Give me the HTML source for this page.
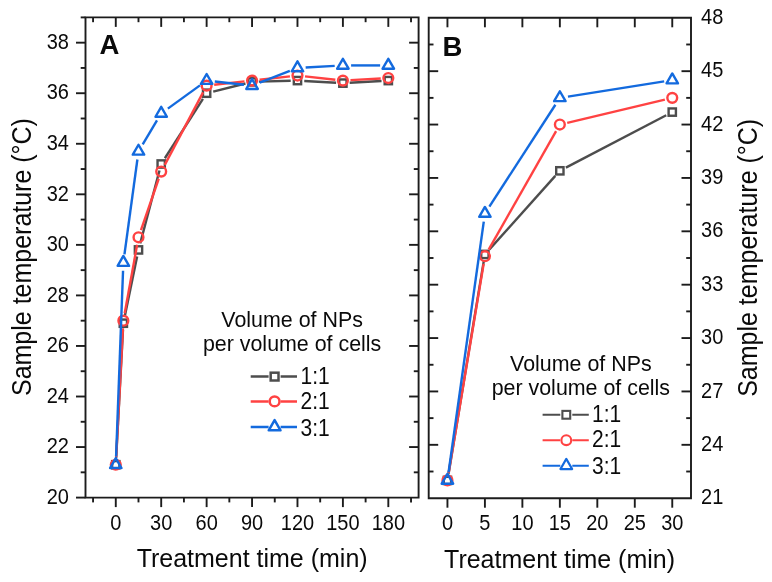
<!DOCTYPE html>
<html><head><meta charset="utf-8"><style>
html,body{margin:0;padding:0;background:#fff;}
svg{display:block;will-change:transform;}
text{fill:#0a0a0a;}
</style></head><body>
<svg width="772" height="582" viewBox="0 0 772 582" font-family="'Liberation Sans', sans-serif">
<rect width="772" height="582" fill="#fff"/>
<path d="M85.5,17.4 L418.6,17.4 L418.6,497.6 L85.5,497.6 Z" fill="none" stroke="#1c1c1c" stroke-width="1.9" stroke-linejoin="miter"/>
<line x1="76.00" y1="497.60" x2="85.50" y2="497.60" stroke="#1c1c1c" stroke-width="1.9" stroke-linecap="butt"/>
<text transform="translate(68.90,503.80) scale(1,1.09)" font-size="20" text-anchor="end" >20</text>
<line x1="80.70" y1="472.33" x2="85.50" y2="472.33" stroke="#1c1c1c" stroke-width="1.9" stroke-linecap="butt"/>
<line x1="413.80" y1="472.33" x2="418.60" y2="472.33" stroke="#1c1c1c" stroke-width="1.9" stroke-linecap="butt"/>
<line x1="76.00" y1="447.05" x2="85.50" y2="447.05" stroke="#1c1c1c" stroke-width="1.9" stroke-linecap="butt"/>
<line x1="409.10" y1="447.05" x2="418.60" y2="447.05" stroke="#1c1c1c" stroke-width="1.9" stroke-linecap="butt"/>
<text transform="translate(68.90,453.25) scale(1,1.09)" font-size="20" text-anchor="end" >22</text>
<line x1="80.70" y1="421.78" x2="85.50" y2="421.78" stroke="#1c1c1c" stroke-width="1.9" stroke-linecap="butt"/>
<line x1="413.80" y1="421.78" x2="418.60" y2="421.78" stroke="#1c1c1c" stroke-width="1.9" stroke-linecap="butt"/>
<line x1="76.00" y1="396.51" x2="85.50" y2="396.51" stroke="#1c1c1c" stroke-width="1.9" stroke-linecap="butt"/>
<line x1="409.10" y1="396.51" x2="418.60" y2="396.51" stroke="#1c1c1c" stroke-width="1.9" stroke-linecap="butt"/>
<text transform="translate(68.90,402.71) scale(1,1.09)" font-size="20" text-anchor="end" >24</text>
<line x1="80.70" y1="371.23" x2="85.50" y2="371.23" stroke="#1c1c1c" stroke-width="1.9" stroke-linecap="butt"/>
<line x1="413.80" y1="371.23" x2="418.60" y2="371.23" stroke="#1c1c1c" stroke-width="1.9" stroke-linecap="butt"/>
<line x1="76.00" y1="345.96" x2="85.50" y2="345.96" stroke="#1c1c1c" stroke-width="1.9" stroke-linecap="butt"/>
<line x1="409.10" y1="345.96" x2="418.60" y2="345.96" stroke="#1c1c1c" stroke-width="1.9" stroke-linecap="butt"/>
<text transform="translate(68.90,352.16) scale(1,1.09)" font-size="20" text-anchor="end" >26</text>
<line x1="80.70" y1="320.68" x2="85.50" y2="320.68" stroke="#1c1c1c" stroke-width="1.9" stroke-linecap="butt"/>
<line x1="413.80" y1="320.68" x2="418.60" y2="320.68" stroke="#1c1c1c" stroke-width="1.9" stroke-linecap="butt"/>
<line x1="76.00" y1="295.41" x2="85.50" y2="295.41" stroke="#1c1c1c" stroke-width="1.9" stroke-linecap="butt"/>
<line x1="409.10" y1="295.41" x2="418.60" y2="295.41" stroke="#1c1c1c" stroke-width="1.9" stroke-linecap="butt"/>
<text transform="translate(68.90,301.61) scale(1,1.09)" font-size="20" text-anchor="end" >28</text>
<line x1="80.70" y1="270.14" x2="85.50" y2="270.14" stroke="#1c1c1c" stroke-width="1.9" stroke-linecap="butt"/>
<line x1="413.80" y1="270.14" x2="418.60" y2="270.14" stroke="#1c1c1c" stroke-width="1.9" stroke-linecap="butt"/>
<line x1="76.00" y1="244.86" x2="85.50" y2="244.86" stroke="#1c1c1c" stroke-width="1.9" stroke-linecap="butt"/>
<line x1="409.10" y1="244.86" x2="418.60" y2="244.86" stroke="#1c1c1c" stroke-width="1.9" stroke-linecap="butt"/>
<text transform="translate(68.90,251.06) scale(1,1.09)" font-size="20" text-anchor="end" >30</text>
<line x1="80.70" y1="219.59" x2="85.50" y2="219.59" stroke="#1c1c1c" stroke-width="1.9" stroke-linecap="butt"/>
<line x1="413.80" y1="219.59" x2="418.60" y2="219.59" stroke="#1c1c1c" stroke-width="1.9" stroke-linecap="butt"/>
<line x1="76.00" y1="194.32" x2="85.50" y2="194.32" stroke="#1c1c1c" stroke-width="1.9" stroke-linecap="butt"/>
<line x1="409.10" y1="194.32" x2="418.60" y2="194.32" stroke="#1c1c1c" stroke-width="1.9" stroke-linecap="butt"/>
<text transform="translate(68.90,200.52) scale(1,1.09)" font-size="20" text-anchor="end" >32</text>
<line x1="80.70" y1="169.04" x2="85.50" y2="169.04" stroke="#1c1c1c" stroke-width="1.9" stroke-linecap="butt"/>
<line x1="413.80" y1="169.04" x2="418.60" y2="169.04" stroke="#1c1c1c" stroke-width="1.9" stroke-linecap="butt"/>
<line x1="76.00" y1="143.77" x2="85.50" y2="143.77" stroke="#1c1c1c" stroke-width="1.9" stroke-linecap="butt"/>
<line x1="409.10" y1="143.77" x2="418.60" y2="143.77" stroke="#1c1c1c" stroke-width="1.9" stroke-linecap="butt"/>
<text transform="translate(68.90,149.97) scale(1,1.09)" font-size="20" text-anchor="end" >34</text>
<line x1="80.70" y1="118.49" x2="85.50" y2="118.49" stroke="#1c1c1c" stroke-width="1.9" stroke-linecap="butt"/>
<line x1="413.80" y1="118.49" x2="418.60" y2="118.49" stroke="#1c1c1c" stroke-width="1.9" stroke-linecap="butt"/>
<line x1="76.00" y1="93.22" x2="85.50" y2="93.22" stroke="#1c1c1c" stroke-width="1.9" stroke-linecap="butt"/>
<line x1="409.10" y1="93.22" x2="418.60" y2="93.22" stroke="#1c1c1c" stroke-width="1.9" stroke-linecap="butt"/>
<text transform="translate(68.90,99.42) scale(1,1.09)" font-size="20" text-anchor="end" >36</text>
<line x1="80.70" y1="67.95" x2="85.50" y2="67.95" stroke="#1c1c1c" stroke-width="1.9" stroke-linecap="butt"/>
<line x1="413.80" y1="67.95" x2="418.60" y2="67.95" stroke="#1c1c1c" stroke-width="1.9" stroke-linecap="butt"/>
<line x1="76.00" y1="42.67" x2="85.50" y2="42.67" stroke="#1c1c1c" stroke-width="1.9" stroke-linecap="butt"/>
<line x1="409.10" y1="42.67" x2="418.60" y2="42.67" stroke="#1c1c1c" stroke-width="1.9" stroke-linecap="butt"/>
<text transform="translate(68.90,48.87) scale(1,1.09)" font-size="20" text-anchor="end" >38</text>
<line x1="80.70" y1="17.40" x2="85.50" y2="17.40" stroke="#1c1c1c" stroke-width="1.9" stroke-linecap="butt"/>
<line x1="93.07" y1="497.60" x2="93.07" y2="502.40" stroke="#1c1c1c" stroke-width="1.9" stroke-linecap="butt"/>
<line x1="93.07" y1="17.40" x2="93.07" y2="22.20" stroke="#1c1c1c" stroke-width="1.9" stroke-linecap="butt"/>
<line x1="115.78" y1="497.60" x2="115.78" y2="507.10" stroke="#1c1c1c" stroke-width="1.9" stroke-linecap="butt"/>
<line x1="115.78" y1="17.40" x2="115.78" y2="26.90" stroke="#1c1c1c" stroke-width="1.9" stroke-linecap="butt"/>
<text transform="translate(115.78,529.70) scale(1,1.09)" font-size="20" text-anchor="middle" >0</text>
<line x1="138.49" y1="497.60" x2="138.49" y2="502.40" stroke="#1c1c1c" stroke-width="1.9" stroke-linecap="butt"/>
<line x1="138.49" y1="17.40" x2="138.49" y2="22.20" stroke="#1c1c1c" stroke-width="1.9" stroke-linecap="butt"/>
<line x1="161.20" y1="497.60" x2="161.20" y2="507.10" stroke="#1c1c1c" stroke-width="1.9" stroke-linecap="butt"/>
<line x1="161.20" y1="17.40" x2="161.20" y2="26.90" stroke="#1c1c1c" stroke-width="1.9" stroke-linecap="butt"/>
<text transform="translate(161.20,529.70) scale(1,1.09)" font-size="20" text-anchor="middle" >30</text>
<line x1="183.92" y1="497.60" x2="183.92" y2="502.40" stroke="#1c1c1c" stroke-width="1.9" stroke-linecap="butt"/>
<line x1="183.92" y1="17.40" x2="183.92" y2="22.20" stroke="#1c1c1c" stroke-width="1.9" stroke-linecap="butt"/>
<line x1="206.63" y1="497.60" x2="206.63" y2="507.10" stroke="#1c1c1c" stroke-width="1.9" stroke-linecap="butt"/>
<line x1="206.63" y1="17.40" x2="206.63" y2="26.90" stroke="#1c1c1c" stroke-width="1.9" stroke-linecap="butt"/>
<text transform="translate(206.63,529.70) scale(1,1.09)" font-size="20" text-anchor="middle" >60</text>
<line x1="229.34" y1="497.60" x2="229.34" y2="502.40" stroke="#1c1c1c" stroke-width="1.9" stroke-linecap="butt"/>
<line x1="229.34" y1="17.40" x2="229.34" y2="22.20" stroke="#1c1c1c" stroke-width="1.9" stroke-linecap="butt"/>
<line x1="252.05" y1="497.60" x2="252.05" y2="507.10" stroke="#1c1c1c" stroke-width="1.9" stroke-linecap="butt"/>
<line x1="252.05" y1="17.40" x2="252.05" y2="26.90" stroke="#1c1c1c" stroke-width="1.9" stroke-linecap="butt"/>
<text transform="translate(252.05,529.70) scale(1,1.09)" font-size="20" text-anchor="middle" >90</text>
<line x1="274.76" y1="497.60" x2="274.76" y2="502.40" stroke="#1c1c1c" stroke-width="1.9" stroke-linecap="butt"/>
<line x1="274.76" y1="17.40" x2="274.76" y2="22.20" stroke="#1c1c1c" stroke-width="1.9" stroke-linecap="butt"/>
<line x1="297.47" y1="497.60" x2="297.47" y2="507.10" stroke="#1c1c1c" stroke-width="1.9" stroke-linecap="butt"/>
<line x1="297.47" y1="17.40" x2="297.47" y2="26.90" stroke="#1c1c1c" stroke-width="1.9" stroke-linecap="butt"/>
<text transform="translate(297.47,529.70) scale(1,1.09)" font-size="20" text-anchor="middle" >120</text>
<line x1="320.18" y1="497.60" x2="320.18" y2="502.40" stroke="#1c1c1c" stroke-width="1.9" stroke-linecap="butt"/>
<line x1="320.18" y1="17.40" x2="320.18" y2="22.20" stroke="#1c1c1c" stroke-width="1.9" stroke-linecap="butt"/>
<line x1="342.90" y1="497.60" x2="342.90" y2="507.10" stroke="#1c1c1c" stroke-width="1.9" stroke-linecap="butt"/>
<line x1="342.90" y1="17.40" x2="342.90" y2="26.90" stroke="#1c1c1c" stroke-width="1.9" stroke-linecap="butt"/>
<text transform="translate(342.90,529.70) scale(1,1.09)" font-size="20" text-anchor="middle" >150</text>
<line x1="365.61" y1="497.60" x2="365.61" y2="502.40" stroke="#1c1c1c" stroke-width="1.9" stroke-linecap="butt"/>
<line x1="365.61" y1="17.40" x2="365.61" y2="22.20" stroke="#1c1c1c" stroke-width="1.9" stroke-linecap="butt"/>
<line x1="388.32" y1="497.60" x2="388.32" y2="507.10" stroke="#1c1c1c" stroke-width="1.9" stroke-linecap="butt"/>
<line x1="388.32" y1="17.40" x2="388.32" y2="26.90" stroke="#1c1c1c" stroke-width="1.9" stroke-linecap="butt"/>
<text transform="translate(388.32,529.70) scale(1,1.09)" font-size="20" text-anchor="middle" >180</text>
<line x1="411.03" y1="497.60" x2="411.03" y2="502.40" stroke="#1c1c1c" stroke-width="1.9" stroke-linecap="butt"/>
<line x1="411.03" y1="17.40" x2="411.03" y2="22.20" stroke="#1c1c1c" stroke-width="1.9" stroke-linecap="butt"/>
<text transform="translate(99.60,54.45) scale(1,1.0)" font-size="27.5" text-anchor="start" font-weight="bold">A</text>
<text transform="translate(136.65,566.60) scale(1,1.06)" font-size="25" text-anchor="start" >Treatment time (min)</text>
<text transform="translate(31.2,396.0) rotate(-90) scale(1,1.08)" font-size="25">Sample temperature (°C)</text>
<path d="M428.7,17.8 L691.0,17.8 L691.0,498.2 L428.7,498.2 Z" fill="none" stroke="#1c1c1c" stroke-width="1.9" stroke-linejoin="miter"/>
<text transform="translate(701.10,504.30) scale(1,1.08)" font-size="20" text-anchor="start" >21</text>
<line x1="428.70" y1="471.51" x2="433.50" y2="471.51" stroke="#1c1c1c" stroke-width="1.9" stroke-linecap="butt"/>
<line x1="686.20" y1="471.51" x2="691.00" y2="471.51" stroke="#1c1c1c" stroke-width="1.9" stroke-linecap="butt"/>
<line x1="428.70" y1="444.82" x2="438.20" y2="444.82" stroke="#1c1c1c" stroke-width="1.9" stroke-linecap="butt"/>
<line x1="681.50" y1="444.82" x2="691.00" y2="444.82" stroke="#1c1c1c" stroke-width="1.9" stroke-linecap="butt"/>
<text transform="translate(701.10,450.92) scale(1,1.08)" font-size="20" text-anchor="start" >24</text>
<line x1="428.70" y1="418.13" x2="433.50" y2="418.13" stroke="#1c1c1c" stroke-width="1.9" stroke-linecap="butt"/>
<line x1="686.20" y1="418.13" x2="691.00" y2="418.13" stroke="#1c1c1c" stroke-width="1.9" stroke-linecap="butt"/>
<line x1="428.70" y1="391.44" x2="438.20" y2="391.44" stroke="#1c1c1c" stroke-width="1.9" stroke-linecap="butt"/>
<line x1="681.50" y1="391.44" x2="691.00" y2="391.44" stroke="#1c1c1c" stroke-width="1.9" stroke-linecap="butt"/>
<text transform="translate(701.10,397.54) scale(1,1.08)" font-size="20" text-anchor="start" >27</text>
<line x1="428.70" y1="364.76" x2="433.50" y2="364.76" stroke="#1c1c1c" stroke-width="1.9" stroke-linecap="butt"/>
<line x1="686.20" y1="364.76" x2="691.00" y2="364.76" stroke="#1c1c1c" stroke-width="1.9" stroke-linecap="butt"/>
<line x1="428.70" y1="338.07" x2="438.20" y2="338.07" stroke="#1c1c1c" stroke-width="1.9" stroke-linecap="butt"/>
<line x1="681.50" y1="338.07" x2="691.00" y2="338.07" stroke="#1c1c1c" stroke-width="1.9" stroke-linecap="butt"/>
<text transform="translate(701.10,344.17) scale(1,1.08)" font-size="20" text-anchor="start" >30</text>
<line x1="428.70" y1="311.38" x2="433.50" y2="311.38" stroke="#1c1c1c" stroke-width="1.9" stroke-linecap="butt"/>
<line x1="686.20" y1="311.38" x2="691.00" y2="311.38" stroke="#1c1c1c" stroke-width="1.9" stroke-linecap="butt"/>
<line x1="428.70" y1="284.69" x2="438.20" y2="284.69" stroke="#1c1c1c" stroke-width="1.9" stroke-linecap="butt"/>
<line x1="681.50" y1="284.69" x2="691.00" y2="284.69" stroke="#1c1c1c" stroke-width="1.9" stroke-linecap="butt"/>
<text transform="translate(701.10,290.79) scale(1,1.08)" font-size="20" text-anchor="start" >33</text>
<line x1="428.70" y1="258.00" x2="433.50" y2="258.00" stroke="#1c1c1c" stroke-width="1.9" stroke-linecap="butt"/>
<line x1="686.20" y1="258.00" x2="691.00" y2="258.00" stroke="#1c1c1c" stroke-width="1.9" stroke-linecap="butt"/>
<line x1="428.70" y1="231.31" x2="438.20" y2="231.31" stroke="#1c1c1c" stroke-width="1.9" stroke-linecap="butt"/>
<line x1="681.50" y1="231.31" x2="691.00" y2="231.31" stroke="#1c1c1c" stroke-width="1.9" stroke-linecap="butt"/>
<text transform="translate(701.10,237.41) scale(1,1.08)" font-size="20" text-anchor="start" >36</text>
<line x1="428.70" y1="204.62" x2="433.50" y2="204.62" stroke="#1c1c1c" stroke-width="1.9" stroke-linecap="butt"/>
<line x1="686.20" y1="204.62" x2="691.00" y2="204.62" stroke="#1c1c1c" stroke-width="1.9" stroke-linecap="butt"/>
<line x1="428.70" y1="177.93" x2="438.20" y2="177.93" stroke="#1c1c1c" stroke-width="1.9" stroke-linecap="butt"/>
<line x1="681.50" y1="177.93" x2="691.00" y2="177.93" stroke="#1c1c1c" stroke-width="1.9" stroke-linecap="butt"/>
<text transform="translate(701.10,184.03) scale(1,1.08)" font-size="20" text-anchor="start" >39</text>
<line x1="428.70" y1="151.24" x2="433.50" y2="151.24" stroke="#1c1c1c" stroke-width="1.9" stroke-linecap="butt"/>
<line x1="686.20" y1="151.24" x2="691.00" y2="151.24" stroke="#1c1c1c" stroke-width="1.9" stroke-linecap="butt"/>
<line x1="428.70" y1="124.56" x2="438.20" y2="124.56" stroke="#1c1c1c" stroke-width="1.9" stroke-linecap="butt"/>
<line x1="681.50" y1="124.56" x2="691.00" y2="124.56" stroke="#1c1c1c" stroke-width="1.9" stroke-linecap="butt"/>
<text transform="translate(701.10,130.66) scale(1,1.08)" font-size="20" text-anchor="start" >42</text>
<line x1="428.70" y1="97.87" x2="433.50" y2="97.87" stroke="#1c1c1c" stroke-width="1.9" stroke-linecap="butt"/>
<line x1="686.20" y1="97.87" x2="691.00" y2="97.87" stroke="#1c1c1c" stroke-width="1.9" stroke-linecap="butt"/>
<line x1="428.70" y1="71.18" x2="438.20" y2="71.18" stroke="#1c1c1c" stroke-width="1.9" stroke-linecap="butt"/>
<line x1="681.50" y1="71.18" x2="691.00" y2="71.18" stroke="#1c1c1c" stroke-width="1.9" stroke-linecap="butt"/>
<text transform="translate(701.10,77.28) scale(1,1.08)" font-size="20" text-anchor="start" >45</text>
<line x1="428.70" y1="44.49" x2="433.50" y2="44.49" stroke="#1c1c1c" stroke-width="1.9" stroke-linecap="butt"/>
<line x1="686.20" y1="44.49" x2="691.00" y2="44.49" stroke="#1c1c1c" stroke-width="1.9" stroke-linecap="butt"/>
<text transform="translate(701.10,23.90) scale(1,1.08)" font-size="20" text-anchor="start" >48</text>
<line x1="447.44" y1="498.20" x2="447.44" y2="507.70" stroke="#1c1c1c" stroke-width="1.9" stroke-linecap="butt"/>
<line x1="447.44" y1="17.80" x2="447.44" y2="27.30" stroke="#1c1c1c" stroke-width="1.9" stroke-linecap="butt"/>
<text transform="translate(447.44,529.90) scale(1,1.09)" font-size="20" text-anchor="middle" >0</text>
<line x1="484.91" y1="498.20" x2="484.91" y2="507.70" stroke="#1c1c1c" stroke-width="1.9" stroke-linecap="butt"/>
<line x1="484.91" y1="17.80" x2="484.91" y2="27.30" stroke="#1c1c1c" stroke-width="1.9" stroke-linecap="butt"/>
<text transform="translate(484.91,529.90) scale(1,1.09)" font-size="20" text-anchor="middle" >5</text>
<line x1="522.38" y1="498.20" x2="522.38" y2="507.70" stroke="#1c1c1c" stroke-width="1.9" stroke-linecap="butt"/>
<line x1="522.38" y1="17.80" x2="522.38" y2="27.30" stroke="#1c1c1c" stroke-width="1.9" stroke-linecap="butt"/>
<text transform="translate(522.38,529.90) scale(1,1.09)" font-size="20" text-anchor="middle" >10</text>
<line x1="559.85" y1="498.20" x2="559.85" y2="507.70" stroke="#1c1c1c" stroke-width="1.9" stroke-linecap="butt"/>
<line x1="559.85" y1="17.80" x2="559.85" y2="27.30" stroke="#1c1c1c" stroke-width="1.9" stroke-linecap="butt"/>
<text transform="translate(559.85,529.90) scale(1,1.09)" font-size="20" text-anchor="middle" >15</text>
<line x1="597.32" y1="498.20" x2="597.32" y2="507.70" stroke="#1c1c1c" stroke-width="1.9" stroke-linecap="butt"/>
<line x1="597.32" y1="17.80" x2="597.32" y2="27.30" stroke="#1c1c1c" stroke-width="1.9" stroke-linecap="butt"/>
<text transform="translate(597.32,529.90) scale(1,1.09)" font-size="20" text-anchor="middle" >20</text>
<line x1="634.79" y1="498.20" x2="634.79" y2="507.70" stroke="#1c1c1c" stroke-width="1.9" stroke-linecap="butt"/>
<line x1="634.79" y1="17.80" x2="634.79" y2="27.30" stroke="#1c1c1c" stroke-width="1.9" stroke-linecap="butt"/>
<text transform="translate(634.79,529.90) scale(1,1.09)" font-size="20" text-anchor="middle" >25</text>
<line x1="672.26" y1="498.20" x2="672.26" y2="507.70" stroke="#1c1c1c" stroke-width="1.9" stroke-linecap="butt"/>
<line x1="672.26" y1="17.80" x2="672.26" y2="27.30" stroke="#1c1c1c" stroke-width="1.9" stroke-linecap="butt"/>
<text transform="translate(672.26,529.90) scale(1,1.09)" font-size="20" text-anchor="middle" >30</text>
<text transform="translate(442.60,55.55) scale(1,1.0)" font-size="27.5" text-anchor="start" font-weight="bold">B</text>
<text transform="translate(444.05,568.40) scale(1,1.06)" font-size="25" text-anchor="start" >Treatment time (min)</text>
<text transform="translate(756.8,396.8) rotate(-90) scale(1,1.08)" font-size="25">Sample temperature (°C)</text>
<line x1="116.15" y1="457.95" x2="122.99" y2="330.00" stroke="#4d4d4d" stroke-width="2.4" stroke-linecap="butt"/>
<line x1="124.73" y1="316.55" x2="137.12" y2="256.58" stroke="#4d4d4d" stroke-width="2.4" stroke-linecap="butt"/>
<line x1="140.23" y1="243.34" x2="159.47" y2="170.56" stroke="#4d4d4d" stroke-width="2.4" stroke-linecap="butt"/>
<line x1="164.88" y1="158.26" x2="202.95" y2="98.94" stroke="#4d4d4d" stroke-width="2.4" stroke-linecap="butt"/>
<line x1="213.22" y1="91.57" x2="245.45" y2="83.50" stroke="#4d4d4d" stroke-width="2.4" stroke-linecap="butt"/>
<line x1="258.85" y1="81.66" x2="290.68" y2="80.77" stroke="#4d4d4d" stroke-width="2.4" stroke-linecap="butt"/>
<line x1="304.26" y1="80.96" x2="336.11" y2="82.73" stroke="#4d4d4d" stroke-width="2.4" stroke-linecap="butt"/>
<line x1="349.68" y1="82.73" x2="381.53" y2="80.96" stroke="#4d4d4d" stroke-width="2.4" stroke-linecap="butt"/>
<rect x="112.13" y="461.09" width="7.30" height="7.30" fill="none" stroke="#4d4d4d" stroke-width="2.4"/>
<rect x="119.70" y="319.56" width="7.30" height="7.30" fill="none" stroke="#4d4d4d" stroke-width="2.4"/>
<rect x="134.84" y="246.27" width="7.30" height="7.30" fill="none" stroke="#4d4d4d" stroke-width="2.4"/>
<rect x="157.55" y="160.34" width="7.30" height="7.30" fill="none" stroke="#4d4d4d" stroke-width="2.4"/>
<rect x="202.98" y="89.57" width="7.30" height="7.30" fill="none" stroke="#4d4d4d" stroke-width="2.4"/>
<rect x="248.40" y="78.20" width="7.30" height="7.30" fill="none" stroke="#4d4d4d" stroke-width="2.4"/>
<rect x="293.82" y="76.93" width="7.30" height="7.30" fill="none" stroke="#4d4d4d" stroke-width="2.4"/>
<rect x="339.25" y="79.46" width="7.30" height="7.30" fill="none" stroke="#4d4d4d" stroke-width="2.4"/>
<rect x="384.67" y="76.93" width="7.30" height="7.30" fill="none" stroke="#4d4d4d" stroke-width="2.4"/>
<line x1="116.18" y1="457.15" x2="122.95" y2="328.27" stroke="#ff4242" stroke-width="2.4" stroke-linecap="butt"/>
<line x1="124.71" y1="313.21" x2="137.14" y2="244.76" stroke="#ff4242" stroke-width="2.4" stroke-linecap="butt"/>
<line x1="140.98" y1="230.10" x2="158.72" y2="178.75" stroke="#ff4242" stroke-width="2.4" stroke-linecap="butt"/>
<line x1="164.76" y1="164.85" x2="203.08" y2="92.36" stroke="#ff4242" stroke-width="2.4" stroke-linecap="butt"/>
<line x1="214.18" y1="84.80" x2="244.50" y2="81.42" stroke="#ff4242" stroke-width="2.4" stroke-linecap="butt"/>
<line x1="259.60" y1="79.74" x2="289.92" y2="76.37" stroke="#ff4242" stroke-width="2.4" stroke-linecap="butt"/>
<line x1="305.03" y1="76.37" x2="335.34" y2="79.74" stroke="#ff4242" stroke-width="2.4" stroke-linecap="butt"/>
<line x1="350.48" y1="80.16" x2="380.73" y2="78.48" stroke="#ff4242" stroke-width="2.4" stroke-linecap="butt"/>
<circle cx="115.78" cy="464.74" r="4.90" fill="none" stroke="#ff4242" stroke-width="2.4"/>
<circle cx="123.35" cy="320.68" r="4.90" fill="none" stroke="#ff4242" stroke-width="2.4"/>
<circle cx="138.49" cy="237.28" r="4.90" fill="none" stroke="#ff4242" stroke-width="2.4"/>
<circle cx="161.20" cy="171.57" r="4.90" fill="none" stroke="#ff4242" stroke-width="2.4"/>
<circle cx="206.63" cy="85.64" r="4.90" fill="none" stroke="#ff4242" stroke-width="2.4"/>
<circle cx="252.05" cy="80.58" r="4.90" fill="none" stroke="#ff4242" stroke-width="2.4"/>
<circle cx="297.47" cy="75.53" r="4.90" fill="none" stroke="#ff4242" stroke-width="2.4"/>
<circle cx="342.90" cy="80.58" r="4.90" fill="none" stroke="#ff4242" stroke-width="2.4"/>
<circle cx="388.32" cy="78.06" r="4.90" fill="none" stroke="#ff4242" stroke-width="2.4"/>
<line x1="116.09" y1="456.55" x2="123.05" y2="270.75" stroke="#136ade" stroke-width="2.4" stroke-linecap="butt"/>
<line x1="124.46" y1="254.43" x2="137.39" y2="159.48" stroke="#136ade" stroke-width="2.4" stroke-linecap="butt"/>
<line x1="142.71" y1="144.32" x2="156.99" y2="120.47" stroke="#136ade" stroke-width="2.4" stroke-linecap="butt"/>
<line x1="167.85" y1="108.63" x2="199.98" y2="85.39" stroke="#136ade" stroke-width="2.4" stroke-linecap="butt"/>
<line x1="214.78" y1="81.49" x2="243.90" y2="84.73" stroke="#136ade" stroke-width="2.4" stroke-linecap="butt"/>
<line x1="259.69" y1="82.66" x2="289.83" y2="70.92" stroke="#136ade" stroke-width="2.4" stroke-linecap="butt"/>
<line x1="305.66" y1="67.49" x2="334.71" y2="65.88" stroke="#136ade" stroke-width="2.4" stroke-linecap="butt"/>
<line x1="351.10" y1="65.42" x2="380.12" y2="65.42" stroke="#136ade" stroke-width="2.4" stroke-linecap="butt"/>
<polygon points="115.78,458.14 121.50,468.04 110.07,468.04" fill="none" stroke="#136ade" stroke-width="2.4" stroke-linejoin="round"/>
<polygon points="123.35,255.95 129.07,265.85 117.64,265.85" fill="none" stroke="#136ade" stroke-width="2.4" stroke-linejoin="round"/>
<polygon points="138.49,144.75 144.21,154.65 132.78,154.65" fill="none" stroke="#136ade" stroke-width="2.4" stroke-linejoin="round"/>
<polygon points="161.20,106.84 166.92,116.74 155.49,116.74" fill="none" stroke="#136ade" stroke-width="2.4" stroke-linejoin="round"/>
<polygon points="206.63,73.98 212.34,83.88 200.91,83.88" fill="none" stroke="#136ade" stroke-width="2.4" stroke-linejoin="round"/>
<polygon points="252.05,79.04 257.77,88.94 246.33,88.94" fill="none" stroke="#136ade" stroke-width="2.4" stroke-linejoin="round"/>
<polygon points="297.47,61.35 303.19,71.25 291.76,71.25" fill="none" stroke="#136ade" stroke-width="2.4" stroke-linejoin="round"/>
<polygon points="342.90,58.82 348.61,68.72 337.18,68.72" fill="none" stroke="#136ade" stroke-width="2.4" stroke-linejoin="round"/>
<polygon points="388.32,58.82 394.03,68.72 382.60,68.72" fill="none" stroke="#136ade" stroke-width="2.4" stroke-linejoin="round"/>
<line x1="448.55" y1="473.70" x2="483.79" y2="261.15" stroke="#4d4d4d" stroke-width="2.4" stroke-linecap="butt"/>
<line x1="489.45" y1="249.38" x2="555.31" y2="175.88" stroke="#4d4d4d" stroke-width="2.4" stroke-linecap="butt"/>
<line x1="565.88" y1="167.67" x2="666.24" y2="115.25" stroke="#4d4d4d" stroke-width="2.4" stroke-linecap="butt"/>
<rect x="443.79" y="476.76" width="7.30" height="7.30" fill="none" stroke="#4d4d4d" stroke-width="2.4"/>
<rect x="481.26" y="250.79" width="7.30" height="7.30" fill="none" stroke="#4d4d4d" stroke-width="2.4"/>
<rect x="556.20" y="167.17" width="7.30" height="7.30" fill="none" stroke="#4d4d4d" stroke-width="2.4"/>
<rect x="668.61" y="108.45" width="7.30" height="7.30" fill="none" stroke="#4d4d4d" stroke-width="2.4"/>
<line x1="448.69" y1="472.91" x2="483.65" y2="263.72" stroke="#ff4242" stroke-width="2.4" stroke-linecap="butt"/>
<line x1="488.67" y1="249.62" x2="556.09" y2="131.16" stroke="#ff4242" stroke-width="2.4" stroke-linecap="butt"/>
<line x1="567.24" y1="122.80" x2="664.87" y2="99.62" stroke="#ff4242" stroke-width="2.4" stroke-linecap="butt"/>
<circle cx="447.44" cy="480.41" r="4.90" fill="none" stroke="#ff4242" stroke-width="2.4"/>
<circle cx="484.91" cy="256.22" r="4.90" fill="none" stroke="#ff4242" stroke-width="2.4"/>
<circle cx="559.85" cy="124.56" r="4.90" fill="none" stroke="#ff4242" stroke-width="2.4"/>
<circle cx="672.26" cy="97.87" r="4.90" fill="none" stroke="#ff4242" stroke-width="2.4"/>
<line x1="448.58" y1="472.29" x2="483.77" y2="221.64" stroke="#136ade" stroke-width="2.4" stroke-linecap="butt"/>
<line x1="489.37" y1="206.64" x2="555.39" y2="104.75" stroke="#136ade" stroke-width="2.4" stroke-linecap="butt"/>
<line x1="567.95" y1="96.58" x2="664.17" y2="81.36" stroke="#136ade" stroke-width="2.4" stroke-linecap="butt"/>
<polygon points="447.44,473.81 453.15,483.71 441.72,483.71" fill="none" stroke="#136ade" stroke-width="2.4" stroke-linejoin="round"/>
<polygon points="484.91,206.92 490.62,216.82 479.19,216.82" fill="none" stroke="#136ade" stroke-width="2.4" stroke-linejoin="round"/>
<polygon points="559.85,91.27 565.57,101.17 554.13,101.17" fill="none" stroke="#136ade" stroke-width="2.4" stroke-linejoin="round"/>
<polygon points="672.26,73.47 677.98,83.37 666.55,83.37" fill="none" stroke="#136ade" stroke-width="2.4" stroke-linejoin="round"/>
<text transform="translate(292.10,326.50) scale(1,1.06)" font-size="21.4" text-anchor="middle" >Volume of NPs</text>
<text transform="translate(292.10,350.90) scale(1,1.06)" font-size="21.4" text-anchor="middle" >per volume of cells</text>
<line x1="250.70" y1="376.60" x2="297.00" y2="376.60" stroke="#4d4d4d" stroke-width="2.5" stroke-linecap="butt"/>
<rect x="268.6" y="370.6" width="12" height="12" fill="#fff"/>
<rect x="270.69" y="372.69" width="7.81" height="7.81" fill="none" stroke="#4d4d4d" stroke-width="2.5"/>
<text transform="translate(300.50,383.60) scale(1,1.1)" font-size="21" text-anchor="start" >1:1</text>
<line x1="250.70" y1="401.40" x2="297.00" y2="401.40" stroke="#ff4242" stroke-width="2.5" stroke-linecap="butt"/>
<rect x="268.6" y="395.4" width="12" height="12" fill="#fff"/>
<circle cx="274.60" cy="401.40" r="4.90" fill="none" stroke="#ff4242" stroke-width="2.5"/>
<text transform="translate(300.50,408.80) scale(1,1.1)" font-size="21" text-anchor="start" >2:1</text>
<line x1="250.70" y1="426.90" x2="297.00" y2="426.90" stroke="#136ade" stroke-width="2.5" stroke-linecap="butt"/>
<rect x="268.6" y="420.9" width="12" height="12" fill="#fff"/>
<polygon points="274.60,420.10 280.49,430.30 268.71,430.30" fill="none" stroke="#136ade" stroke-width="2.5" stroke-linejoin="round"/>
<text transform="translate(300.50,435.50) scale(1,1.1)" font-size="21" text-anchor="start" >3:1</text>
<text transform="translate(580.85,370.60) scale(1,1.06)" font-size="21.4" text-anchor="middle" >Volume of NPs</text>
<text transform="translate(580.85,395.20) scale(1,1.06)" font-size="21.4" text-anchor="middle" >per volume of cells</text>
<line x1="542.60" y1="414.80" x2="588.80" y2="414.80" stroke="#4d4d4d" stroke-width="2.1" stroke-linecap="butt"/>
<rect x="560.3" y="408.8" width="12" height="12" fill="#fff"/>
<rect x="562.39" y="410.89" width="7.81" height="7.81" fill="none" stroke="#4d4d4d" stroke-width="2.1"/>
<text transform="translate(592.00,422.30) scale(1,1.1)" font-size="21" text-anchor="start" >1:1</text>
<line x1="542.60" y1="440.20" x2="588.80" y2="440.20" stroke="#ff4242" stroke-width="2.1" stroke-linecap="butt"/>
<rect x="560.3" y="434.2" width="12" height="12" fill="#fff"/>
<circle cx="566.30" cy="440.20" r="4.90" fill="none" stroke="#ff4242" stroke-width="2.1"/>
<text transform="translate(592.00,446.90) scale(1,1.1)" font-size="21" text-anchor="start" >2:1</text>
<line x1="542.60" y1="465.70" x2="588.80" y2="465.70" stroke="#136ade" stroke-width="2.1" stroke-linecap="butt"/>
<rect x="560.3" y="459.7" width="12" height="12" fill="#fff"/>
<polygon points="566.30,458.90 572.19,469.10 560.41,469.10" fill="none" stroke="#136ade" stroke-width="2.1" stroke-linejoin="round"/>
<text transform="translate(592.00,473.90) scale(1,1.1)" font-size="21" text-anchor="start" >3:1</text>
</svg></body></html>
